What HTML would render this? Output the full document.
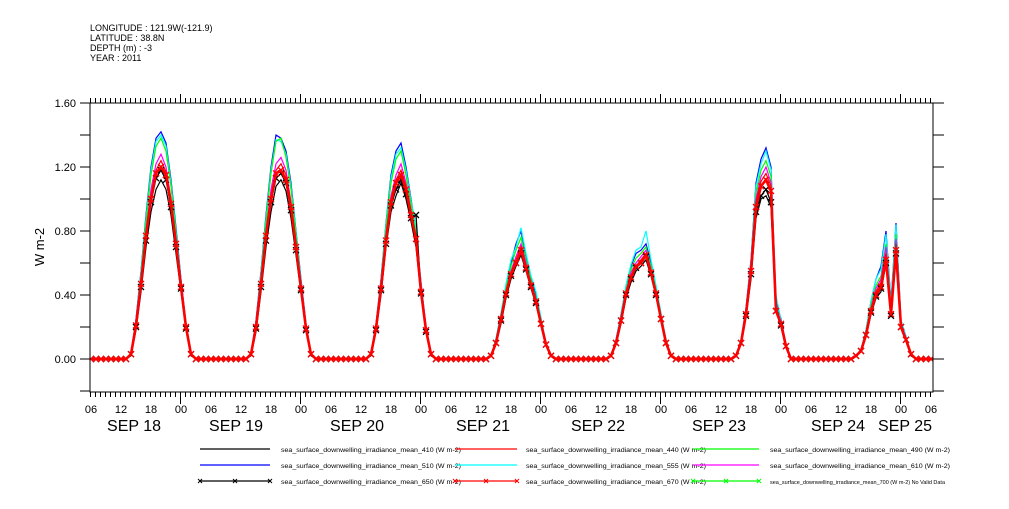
<!DOCTYPE html>
<html><head><meta charset="utf-8">
<style>
html,body{margin:0;padding:0;background:#fff;}
body{width:1009px;height:504px;overflow:hidden;font-family:"Liberation Sans",sans-serif;}
</style></head>
<body>
<svg id="chart" width="1009" height="504" xmlns="http://www.w3.org/2000/svg" font-family="Liberation Sans, sans-serif">
  <g font-size="9" fill="#000">
    <text x="90" y="31">LONGITUDE : 121.9W(-121.9)</text>
    <text x="90" y="41">LATITUDE : 38.8N</text>
    <text x="90" y="51">DEPTH (m) : -3</text>
    <text x="90" y="61">YEAR : 2011</text>
  </g>
  <text x="44" y="247" font-size="13" transform="rotate(-90 44 247)" text-anchor="middle">W m-2</text>
  <defs><clipPath id="plotclip"><rect x="90" y="103" width="843" height="289"/></clipPath></defs>
  <g id="axes"></g>
  <g id="series" clip-path="url(#plotclip)"></g>
  <rect x="90" y="103" width="843" height="289" fill="none" stroke="#000" stroke-width="1"/>
  <g id="legend"></g>
</svg>
<script>
const yTicks = [0.00, 0.40, 0.80, 1.20, 1.60];
const yTickLabels = ["0.00", "0.40", "0.80", "1.20", "1.60"];
const hourLabels = ["06","12","18","00","06","12","18","00","06","12","18","00","06","12","18","00","06","12","18","00","06","12","18","00","06","12","18","00","06"];
const dayLabels = ["SEP 18","SEP 19","SEP 20","SEP 21","SEP 22","SEP 23","SEP 24","SEP 25"];
const dayLabelHours = [8.6, 29, 53.2, 78.4, 101.4, 125.6, 149.4, 162.8];
const dayCenters = [14, 38, 62, 86, 110, 134, 158];
const dayOffsets = [-6,-5,-4,-3,-2,-1,0,1,2,3,4,5,6];
const totalHours = 170;

const s410 = [
[0.02,0.18,0.42,0.7,0.92,1.06,1.12,1.06,0.9,0.66,0.42,0.18,0.02],
[0.02,0.17,0.42,0.7,0.92,1.08,1.12,1.05,0.88,0.65,0.41,0.18,0.02],
[0.02,0.17,0.4,0.7,0.92,1.02,1.1,1.0,0.86,0.7,0.4,0.17,0.02],
[0.02,0.09,0.22,0.38,0.5,0.58,0.65,0.55,0.44,0.34,0.21,0.08,0.02],
[0.02,0.09,0.22,0.38,0.48,0.55,0.58,0.62,0.52,0.39,0.24,0.1,0.02],
[0,0.02,0.09,0.26,0.5,0.88,1.0,1.02,0.95,0.3,0.2,0.07,0],
[0,0.02,0.05,0.14,0.28,0.38,0.42,0.6,0.28,0.66,0.19,0.11,0.02]];
const s440 = [
[0.03,0.21,0.48,0.78,1.02,1.18,1.24,1.17,0.98,0.72,0.45,0.2,0.03],
[0.03,0.2,0.48,0.78,1.02,1.18,1.22,1.15,0.96,0.7,0.44,0.19,0.03],
[0.03,0.19,0.45,0.76,1.0,1.12,1.18,1.08,0.92,0.72,0.42,0.18,0.03],
[0.02,0.1,0.25,0.41,0.54,0.62,0.7,0.58,0.46,0.36,0.22,0.09,0.02],
[0.02,0.1,0.24,0.41,0.52,0.58,0.62,0.66,0.54,0.41,0.25,0.1,0.02],
[0,0.02,0.1,0.29,0.57,0.98,1.11,1.16,1.08,0.32,0.22,0.08,0],
[0,0.02,0.05,0.16,0.31,0.42,0.48,0.66,0.3,0.72,0.21,0.12,0.03]];
const s490 = [
[0.03,0.23,0.52,0.86,1.15,1.33,1.38,1.3,1.08,0.78,0.48,0.2,0.03],
[0.03,0.22,0.52,0.86,1.16,1.36,1.38,1.26,1.06,0.77,0.47,0.2,0.03],
[0.03,0.2,0.48,0.82,1.1,1.25,1.3,1.15,0.97,0.78,0.45,0.19,0.03],
[0.02,0.11,0.27,0.44,0.58,0.68,0.76,0.62,0.49,0.38,0.24,0.09,0.02],
[0.02,0.11,0.26,0.43,0.56,0.63,0.66,0.7,0.58,0.43,0.27,0.11,0.02],
[0,0.02,0.11,0.3,0.59,1.04,1.18,1.24,1.14,0.34,0.23,0.09,0],
[0,0.02,0.05,0.17,0.34,0.46,0.52,0.72,0.32,0.78,0.22,0.13,0.03]];
const s510 = [
[0.03,0.25,0.55,0.9,1.2,1.38,1.42,1.35,1.12,0.82,0.5,0.22,0.03],
[0.03,0.24,0.55,0.9,1.2,1.4,1.38,1.3,1.1,0.8,0.5,0.22,0.03],
[0.03,0.22,0.5,0.85,1.15,1.3,1.35,1.2,1.0,0.8,0.48,0.2,0.03],
[0.02,0.12,0.28,0.45,0.6,0.72,0.8,0.65,0.5,0.4,0.25,0.1,0.02],
[0.02,0.12,0.28,0.45,0.58,0.66,0.68,0.72,0.6,0.45,0.28,0.12,0.02],
[0,0.02,0.12,0.32,0.62,1.1,1.25,1.32,1.2,0.36,0.25,0.09,0],
[0,0.02,0.06,0.18,0.36,0.5,0.58,0.8,0.35,0.85,0.24,0.14,0.03]];
const s555 = [
[0.03,0.24,0.54,0.88,1.18,1.36,1.4,1.33,1.1,0.8,0.49,0.21,0.03],
[0.03,0.23,0.54,0.88,1.18,1.37,1.36,1.28,1.08,0.79,0.49,0.21,0.03],
[0.03,0.21,0.49,0.84,1.13,1.28,1.32,1.18,0.99,0.82,0.47,0.2,0.03],
[0.02,0.13,0.29,0.47,0.62,0.7,0.82,0.66,0.52,0.42,0.26,0.1,0.02],
[0.02,0.12,0.28,0.46,0.59,0.68,0.7,0.8,0.62,0.46,0.29,0.12,0.02],
[0,0.02,0.12,0.31,0.61,1.08,1.22,1.3,1.18,0.4,0.24,0.09,0],
[0,0.02,0.06,0.18,0.36,0.5,0.56,0.78,0.34,0.84,0.24,0.14,0.03]];
const s610 = [
[0.03,0.22,0.5,0.8,1.06,1.22,1.28,1.2,1.0,0.74,0.46,0.2,0.03],
[0.03,0.21,0.5,0.8,1.06,1.22,1.26,1.18,0.98,0.72,0.45,0.19,0.03],
[0.03,0.2,0.46,0.78,1.02,1.15,1.22,1.1,0.93,0.74,0.43,0.18,0.03],
[0.02,0.11,0.26,0.42,0.55,0.64,0.72,0.6,0.47,0.37,0.23,0.09,0.02],
[0.02,0.11,0.25,0.42,0.54,0.6,0.64,0.68,0.56,0.42,0.26,0.11,0.02],
[0,0.02,0.11,0.3,0.58,1.0,1.14,1.2,1.1,0.33,0.23,0.08,0],
[0,0.02,0.05,0.16,0.32,0.44,0.5,0.7,0.31,0.75,0.22,0.13,0.03]];
const s650 = [
[0.03,0.2,0.45,0.74,0.98,1.13,1.18,1.12,0.95,0.7,0.44,0.19,0.03],
[0.03,0.19,0.45,0.74,0.98,1.13,1.16,1.1,0.93,0.68,0.43,0.18,0.03],
[0.03,0.18,0.43,0.72,0.96,1.06,1.12,1.03,0.88,0.9,0.41,0.17,0.03],
[0.02,0.1,0.24,0.4,0.52,0.6,0.66,0.56,0.45,0.35,0.22,0.09,0.02],
[0.02,0.1,0.24,0.4,0.5,0.57,0.6,0.64,0.53,0.4,0.25,0.1,0.02],
[0,0.02,0.1,0.27,0.53,0.92,1.02,1.06,0.98,0.3,0.21,0.08,0],
[0,0.02,0.05,0.15,0.29,0.39,0.44,0.6,0.27,0.66,0.2,0.12,0.03]];
const s670 = [
[0.03,0.21,0.47,0.77,1.0,1.16,1.2,1.15,0.97,0.72,0.45,0.2,0.03],
[0.03,0.2,0.47,0.77,1.0,1.16,1.18,1.12,0.95,0.7,0.44,0.19,0.03],
[0.03,0.19,0.44,0.74,0.98,1.1,1.15,1.06,0.9,0.75,0.42,0.18,0.03],
[0.02,0.1,0.25,0.41,0.53,0.6,0.68,0.57,0.46,0.36,0.22,0.09,0.02],
[0.02,0.1,0.24,0.41,0.51,0.58,0.6,0.65,0.54,0.41,0.25,0.1,0.02],
[0,0.02,0.1,0.28,0.55,0.95,1.08,1.12,1.05,0.3,0.22,0.08,0],
[0,0.02,0.05,0.15,0.3,0.4,0.45,0.62,0.28,0.68,0.2,0.12,0.03]];

const NS = "http://www.w3.org/2000/svg";
const xS = h => 91 + h * 5.0;
const yS = v => 359 - v * 160;
function mk(tag, attrs, parent) {
  const e = document.createElementNS(NS, tag);
  for (const k in attrs) e.setAttribute(k, attrs[k]);
  parent.appendChild(e);
  return e;
}
const axes = document.getElementById("axes");
for (let i = 0; i < yTicks.length; i++) {
  const y = yS(yTicks[i]);
  const t = mk("text", {x: 76, y: y + 4, "font-size": 11, "text-anchor": "end"}, axes);
  t.textContent = yTickLabels[i];
  
  
}
for (let v = -0.2; v <= 1.601; v += 0.2) {
  const y = yS(v);
  const l1 = mk("line", {x1: 80, x2: 90, y1: y, y2: y, stroke: "#000"}, axes);
  
  
  const l2 = mk("line", {x1: 933, x2: 944, y1: y, y2: y, stroke: "#000"}, axes);
  
  
}
for (let h = 0; h <= 168; h++) {
  const x = xS(h) - 0.5;
  const major = (h % 24) === 18;
  const l1 = mk("line", {x1: x, x2: x, y1: 392, y2: major ? 404 : 397, stroke: "#000"}, axes);
  
  
  const l2 = mk("line", {x1: x, x2: x, y1: 103, y2: major ? 94 : 98, stroke: "#000"}, axes);
  
  
}
for (let i = 0; i < hourLabels.length; i++) {
  const t = mk("text", {x: xS(i * 6), y: 413, "font-size": 11, "text-anchor": "middle"}, axes);
  t.textContent = hourLabels[i];
  
  
}
for (let i = 0; i < dayLabels.length; i++) {
  const t = mk("text", {x: xS(dayLabelHours[i]), y: 431, "font-size": 16, "text-anchor": "middle"}, axes);
  t.textContent = dayLabels[i];
  
  
}

function fullSeries(days) {
  const pts = [];
  for (let h = 0; h < totalHours; h++) {
    let v = 0;
    for (let d = 0; d < dayCenters.length; d++) {
      const o = h - dayCenters[d];
      const k = dayOffsets.indexOf(o);
      if (k >= 0) v = days[d][k];
    }
    pts.push([h, v]);
  }
  return pts;
}
const seriesGroup = document.getElementById("series");
function drawSeries(days, color, marker, name, width) {
  const pts = fullSeries(days);
  const g = mk("g", {}, seriesGroup);
  
  
  const d = pts.map((p, i) => (i ? "L" : "M") + xS(p[0]).toFixed(1) + " " + yS(p[1]).toFixed(1)).join(" ");
  const path = mk("path", {d: d, fill: "none", stroke: color, "stroke-width": width}, g);
  
  
  if (marker) {
    for (const p of pts) {
      const x = xS(p[0]), y = yS(p[1]);
      const m = mk("path", {d: `M${x-3} ${y-3}L${x+3} ${y+3}M${x-3} ${y+3}L${x+3} ${y-3}`, stroke: color, "stroke-width": 1.3}, g);
      
      
    }
  }
}
drawSeries(s410, "#000", false, "series-410", 1.2);
drawSeries(s510, "#0000ff", false, "series-510", 1.2);
drawSeries(s555, "#00ffff", false, "series-555", 1.2);
drawSeries(s490, "#00ff00", false, "series-490", 1.2);
drawSeries(s610, "#ff00ff", false, "series-610", 1.2);
drawSeries(s440, "#ff0000", false, "series-440", 1.2);
drawSeries(s650, "#000", true, "series-650", 1.3);
drawSeries(s670, "#ff0000", true, "series-670", 2.6);

const legendItems = [
  ["#000", false, "sea_surface_downwelling_irradiance_mean_410 (W m-2)", 0, 0],
  ["#ff0000", false, "sea_surface_downwelling_irradiance_mean_440 (W m-2)", 1, 0],
  ["#00ff00", false, "sea_surface_downwelling_irradiance_mean_490 (W m-2)", 2, 0],
  ["#0000ff", false, "sea_surface_downwelling_irradiance_mean_510 (W m-2)", 0, 1],
  ["#00ffff", false, "sea_surface_downwelling_irradiance_mean_555 (W m-2)", 1, 1],
  ["#ff00ff", false, "sea_surface_downwelling_irradiance_mean_610 (W m-2)", 2, 1],
  ["#000", true, "sea_surface_downwelling_irradiance_mean_650 (W m-2)", 0, 2],
  ["#ff0000", true, "sea_surface_downwelling_irradiance_mean_670 (W m-2)", 1, 2],
  ["#00ff00", true, "sea_surface_downwelling_irradiance_mean_700 (W m-2) No Valid Data", 2, 2]
];
const legend = document.getElementById("legend");
const colX = [[200, 270, 281], [455, 517, 526], [693, 759, 770]];
const rowY = [449, 465, 481];
for (const it of legendItems) {
  const [c, mkr, label, col, row] = it;
  const g = mk("g", {}, legend);
  
  
  const x1 = colX[col][0], x2 = colX[col][1], y = rowY[row];
  mk("line", {x1: x1, x2: x2, y1: y, y2: y, stroke: c, "stroke-width": 1.2}, g);
  if (mkr) {
    for (const x of [x1, (x1 + x2) / 2, x2]) {
      mk("path", {d: `M${x-2} ${y-2}L${x+2} ${y+2}M${x-2} ${y+2}L${x+2} ${y-2}`, stroke: c}, g);
    }
  }
  const t = mk("text", {x: colX[col][2], y: y + 3, "font-size": row === 2 && col === 2 ? 5.6 : 6.6, textLength: row === 2 && col === 2 ? 175 : 180, lengthAdjust: "spacingAndGlyphs"}, g);
  t.textContent = label;
}
</script>
</body></html>
